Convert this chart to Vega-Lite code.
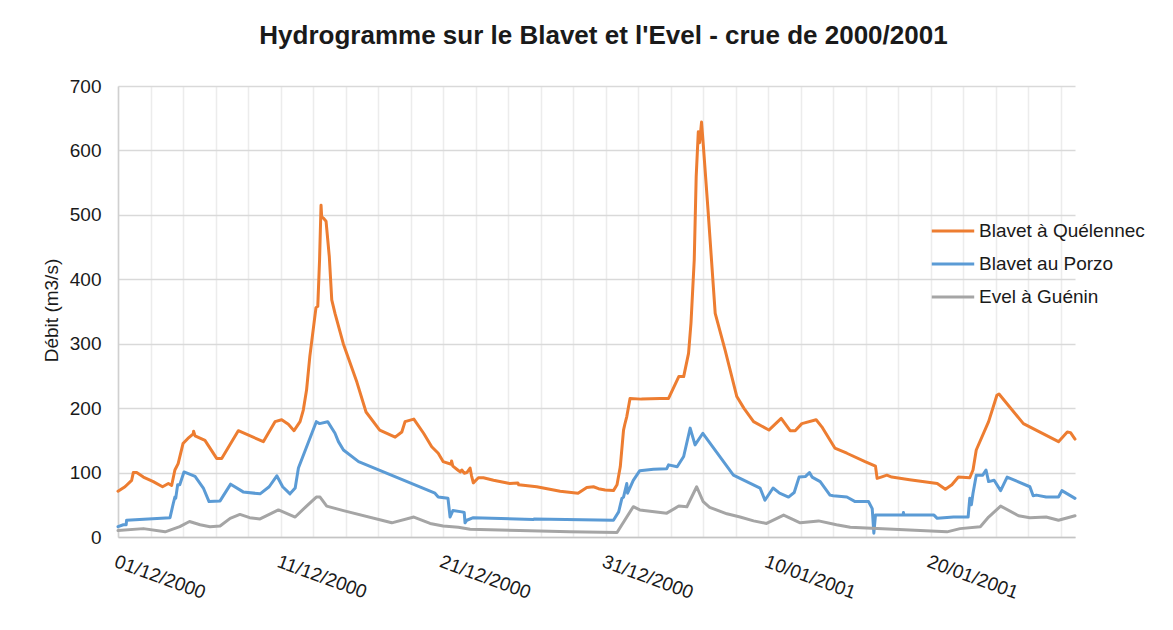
{
  "$schema": "https://vega.github.io/schema/vega-lite/v6.json",
  "autosize": "none",
  "width": 957,
  "height": 451,
  "padding": {"left": 118, "top": 86, "right": 98, "bottom": 93},
  "background": "white",
  "config": {
    "font": "Liberation Sans",
    "view": {"stroke": null}
  },
  "title": {
    "text": "Hydrogramme sur le Blavet et l'Evel - crue de 2000/2001",
    "fontSize": 26,
    "fontWeight": "bold",
    "font": "Liberation Sans",
    "color": "#1a1a1a",
    "anchor": "middle",
    "offset": 28,
    "dx": 7
  },
  "data": {
    "values": [
      {"date": "2000-12-01T00:00", "serie": "Blavet à Quélennec", "debit": 71},
      {"date": "2000-12-01T10:20", "serie": "Blavet à Quélennec", "debit": 78},
      {"date": "2000-12-01T20:10", "serie": "Blavet à Quélennec", "debit": 88},
      {"date": "2000-12-01T22:35", "serie": "Blavet à Quélennec", "debit": 100},
      {"date": "2000-12-02T03:36", "serie": "Blavet à Quélennec", "debit": 100},
      {"date": "2000-12-02T13:26", "serie": "Blavet à Quélennec", "debit": 93},
      {"date": "2000-12-03T04:05", "serie": "Blavet à Quélennec", "debit": 86},
      {"date": "2000-12-03T17:46", "serie": "Blavet à Quélennec", "debit": 78},
      {"date": "2000-12-04T02:24", "serie": "Blavet à Quélennec", "debit": 83},
      {"date": "2000-12-04T07:12", "serie": "Blavet à Quélennec", "debit": 80},
      {"date": "2000-12-04T12:00", "serie": "Blavet à Quélennec", "debit": 104},
      {"date": "2000-12-04T16:48", "serie": "Blavet à Quélennec", "debit": 114},
      {"date": "2000-12-05T00:00", "serie": "Blavet à Quélennec", "debit": 145},
      {"date": "2000-12-05T07:12", "serie": "Blavet à Quélennec", "debit": 153},
      {"date": "2000-12-05T15:07", "serie": "Blavet à Quélennec", "debit": 160},
      {"date": "2000-12-05T15:36", "serie": "Blavet à Quélennec", "debit": 164},
      {"date": "2000-12-05T17:46", "serie": "Blavet à Quélennec", "debit": 157},
      {"date": "2000-12-06T08:24", "serie": "Blavet à Quélennec", "debit": 150},
      {"date": "2000-12-07T01:41", "serie": "Blavet à Quélennec", "debit": 122},
      {"date": "2000-12-07T09:07", "serie": "Blavet à Quélennec", "debit": 122},
      {"date": "2000-12-08T09:36", "serie": "Blavet à Quélennec", "debit": 165},
      {"date": "2000-12-09T22:34", "serie": "Blavet à Quélennec", "debit": 148},
      {"date": "2000-12-10T15:50", "serie": "Blavet à Quélennec", "debit": 179},
      {"date": "2000-12-11T01:41", "serie": "Blavet à Quélennec", "debit": 182},
      {"date": "2000-12-11T11:31", "serie": "Blavet à Quélennec", "debit": 175},
      {"date": "2000-12-11T19:55", "serie": "Blavet à Quélennec", "debit": 165},
      {"date": "2000-12-12T04:48", "serie": "Blavet à Quélennec", "debit": 179},
      {"date": "2000-12-12T09:36", "serie": "Blavet à Quélennec", "debit": 197},
      {"date": "2000-12-12T14:24", "serie": "Blavet à Quélennec", "debit": 228},
      {"date": "2000-12-12T19:12", "serie": "Blavet à Quélennec", "debit": 280},
      {"date": "2000-12-13T04:19", "serie": "Blavet à Quélennec", "debit": 356},
      {"date": "2000-12-13T06:58", "serie": "Blavet à Quélennec", "debit": 358},
      {"date": "2000-12-13T09:36", "serie": "Blavet à Quélennec", "debit": 430},
      {"date": "2000-12-13T11:46", "serie": "Blavet à Quélennec", "debit": 515},
      {"date": "2000-12-13T12:43", "serie": "Blavet à Quélennec", "debit": 497},
      {"date": "2000-12-13T15:07", "serie": "Blavet à Quélennec", "debit": 495},
      {"date": "2000-12-13T19:12", "serie": "Blavet à Quélennec", "debit": 490},
      {"date": "2000-12-14T00:00", "serie": "Blavet à Quélennec", "debit": 435},
      {"date": "2000-12-14T03:36", "serie": "Blavet à Quélennec", "debit": 368},
      {"date": "2000-12-14T08:24", "serie": "Blavet à Quélennec", "debit": 347},
      {"date": "2000-12-14T20:38", "serie": "Blavet à Quélennec", "debit": 300},
      {"date": "2000-12-15T16:48", "serie": "Blavet à Quélennec", "debit": 240},
      {"date": "2000-12-16T06:14", "serie": "Blavet à Quélennec", "debit": 194},
      {"date": "2000-12-17T02:24", "serie": "Blavet à Quélennec", "debit": 166},
      {"date": "2000-12-18T01:12", "serie": "Blavet à Quélennec", "debit": 155},
      {"date": "2000-12-18T11:02", "serie": "Blavet à Quélennec", "debit": 163},
      {"date": "2000-12-18T15:50", "serie": "Blavet à Quélennec", "debit": 179},
      {"date": "2000-12-19T04:48", "serie": "Blavet à Quélennec", "debit": 183},
      {"date": "2000-12-19T19:12", "serie": "Blavet à Quélennec", "debit": 161},
      {"date": "2000-12-20T07:12", "serie": "Blavet à Quélennec", "debit": 140},
      {"date": "2000-12-20T16:48", "serie": "Blavet à Quélennec", "debit": 130},
      {"date": "2000-12-21T00:00", "serie": "Blavet à Quélennec", "debit": 117},
      {"date": "2000-12-21T12:00", "serie": "Blavet à Quélennec", "debit": 113},
      {"date": "2000-12-21T12:29", "serie": "Blavet à Quélennec", "debit": 118},
      {"date": "2000-12-21T14:24", "serie": "Blavet à Quélennec", "debit": 110},
      {"date": "2000-12-21T21:36", "serie": "Blavet à Quélennec", "debit": 104},
      {"date": "2000-12-22T01:12", "serie": "Blavet à Quélennec", "debit": 101},
      {"date": "2000-12-22T03:36", "serie": "Blavet à Quélennec", "debit": 104},
      {"date": "2000-12-22T07:12", "serie": "Blavet à Quélennec", "debit": 99},
      {"date": "2000-12-22T11:02", "serie": "Blavet à Quélennec", "debit": 100},
      {"date": "2000-12-22T15:50", "serie": "Blavet à Quélennec", "debit": 107},
      {"date": "2000-12-22T18:00", "serie": "Blavet à Quélennec", "debit": 95},
      {"date": "2000-12-22T20:38", "serie": "Blavet à Quélennec", "debit": 84},
      {"date": "2000-12-23T04:05", "serie": "Blavet à Quélennec", "debit": 92},
      {"date": "2000-12-23T11:31", "serie": "Blavet à Quélennec", "debit": 92},
      {"date": "2000-12-24T02:24", "serie": "Blavet à Quélennec", "debit": 88},
      {"date": "2000-12-25T02:24", "serie": "Blavet à Quélennec", "debit": 83},
      {"date": "2000-12-25T14:24", "serie": "Blavet à Quélennec", "debit": 84},
      {"date": "2000-12-25T15:36", "serie": "Blavet à Quélennec", "debit": 81},
      {"date": "2000-12-26T18:14", "serie": "Blavet à Quélennec", "debit": 78},
      {"date": "2000-12-28T04:48", "serie": "Blavet à Quélennec", "debit": 71},
      {"date": "2000-12-29T07:12", "serie": "Blavet à Quélennec", "debit": 68},
      {"date": "2000-12-29T20:10", "serie": "Blavet à Quélennec", "debit": 77},
      {"date": "2000-12-30T06:00", "serie": "Blavet à Quélennec", "debit": 78},
      {"date": "2000-12-30T13:26", "serie": "Blavet à Quélennec", "debit": 75},
      {"date": "2000-12-30T23:17", "serie": "Blavet à Quélennec", "debit": 73},
      {"date": "2000-12-31T11:31", "serie": "Blavet à Quélennec", "debit": 72},
      {"date": "2000-12-31T16:48", "serie": "Blavet à Quélennec", "debit": 81},
      {"date": "2000-12-31T21:36", "serie": "Blavet à Quélennec", "debit": 109},
      {"date": "2001-01-01T02:24", "serie": "Blavet à Quélennec", "debit": 166},
      {"date": "2001-01-01T04:19", "serie": "Blavet à Quélennec", "debit": 175},
      {"date": "2001-01-01T07:12", "serie": "Blavet à Quélennec", "debit": 187},
      {"date": "2001-01-01T12:00", "serie": "Blavet à Quélennec", "debit": 215},
      {"date": "2001-01-02T04:48", "serie": "Blavet à Quélennec", "debit": 214},
      {"date": "2001-01-03T08:24", "serie": "Blavet à Quélennec", "debit": 215},
      {"date": "2001-01-03T20:53", "serie": "Blavet à Quélennec", "debit": 215},
      {"date": "2001-01-04T12:00", "serie": "Blavet à Quélennec", "debit": 249},
      {"date": "2001-01-04T19:12", "serie": "Blavet à Quélennec", "debit": 249},
      {"date": "2001-01-05T02:24", "serie": "Blavet à Quélennec", "debit": 285},
      {"date": "2001-01-05T06:00", "serie": "Blavet à Quélennec", "debit": 332},
      {"date": "2001-01-05T10:48", "serie": "Blavet à Quélennec", "debit": 430},
      {"date": "2001-01-05T13:41", "serie": "Blavet à Quélennec", "debit": 559},
      {"date": "2001-01-05T16:48", "serie": "Blavet à Quélennec", "debit": 629},
      {"date": "2001-01-05T18:43", "serie": "Blavet à Quélennec", "debit": 612},
      {"date": "2001-01-05T21:36", "serie": "Blavet à Quélennec", "debit": 644},
      {"date": "2001-01-06T00:00", "serie": "Blavet à Quélennec", "debit": 611},
      {"date": "2001-01-06T07:12", "serie": "Blavet à Quélennec", "debit": 507},
      {"date": "2001-01-06T17:46", "serie": "Blavet à Quélennec", "debit": 347},
      {"date": "2001-01-07T08:24", "serie": "Blavet à Quélennec", "debit": 290},
      {"date": "2001-01-08T01:41", "serie": "Blavet à Quélennec", "debit": 218},
      {"date": "2001-01-08T12:00", "serie": "Blavet à Quélennec", "debit": 200},
      {"date": "2001-01-09T02:24", "serie": "Blavet à Quélennec", "debit": 179},
      {"date": "2001-01-10T01:00", "serie": "Blavet à Quélennec", "debit": 166},
      {"date": "2001-01-10T19:12", "serie": "Blavet à Quélennec", "debit": 184},
      {"date": "2001-01-11T08:24", "serie": "Blavet à Quélennec", "debit": 165},
      {"date": "2001-01-11T15:50", "serie": "Blavet à Quélennec", "debit": 165},
      {"date": "2001-01-12T01:41", "serie": "Blavet à Quélennec", "debit": 176},
      {"date": "2001-01-12T22:48", "serie": "Blavet à Quélennec", "debit": 182},
      {"date": "2001-01-13T07:12", "serie": "Blavet à Quélennec", "debit": 171},
      {"date": "2001-01-14T02:24", "serie": "Blavet à Quélennec", "debit": 138},
      {"date": "2001-01-14T20:10", "serie": "Blavet à Quélennec", "debit": 130},
      {"date": "2001-01-15T23:02", "serie": "Blavet à Quélennec", "debit": 117},
      {"date": "2001-01-16T14:24", "serie": "Blavet à Quélennec", "debit": 110},
      {"date": "2001-01-16T16:48", "serie": "Blavet à Quélennec", "debit": 91},
      {"date": "2001-01-16T22:48", "serie": "Blavet à Quélennec", "debit": 93},
      {"date": "2001-01-17T07:12", "serie": "Blavet à Quélennec", "debit": 96},
      {"date": "2001-01-17T14:24", "serie": "Blavet à Quélennec", "debit": 93},
      {"date": "2001-01-18T16:48", "serie": "Blavet à Quélennec", "debit": 89},
      {"date": "2001-01-20T09:36", "serie": "Blavet à Quélennec", "debit": 83},
      {"date": "2001-01-20T21:36", "serie": "Blavet à Quélennec", "debit": 74},
      {"date": "2001-01-21T07:12", "serie": "Blavet à Quélennec", "debit": 81},
      {"date": "2001-01-21T16:48", "serie": "Blavet à Quélennec", "debit": 93},
      {"date": "2001-01-22T09:36", "serie": "Blavet à Quélennec", "debit": 92},
      {"date": "2001-01-22T14:24", "serie": "Blavet à Quélennec", "debit": 104},
      {"date": "2001-01-22T19:12", "serie": "Blavet à Quélennec", "debit": 135},
      {"date": "2001-01-23T13:26", "serie": "Blavet à Quélennec", "debit": 179},
      {"date": "2001-01-24T01:41", "serie": "Blavet à Quélennec", "debit": 220},
      {"date": "2001-01-24T04:48", "serie": "Blavet à Quélennec", "debit": 222},
      {"date": "2001-01-25T16:48", "serie": "Blavet à Quélennec", "debit": 176},
      {"date": "2001-01-27T20:38", "serie": "Blavet à Quélennec", "debit": 148},
      {"date": "2001-01-28T09:36", "serie": "Blavet à Quélennec", "debit": 163},
      {"date": "2001-01-28T14:24", "serie": "Blavet à Quélennec", "debit": 162},
      {"date": "2001-01-28T21:00", "serie": "Blavet à Quélennec", "debit": 152},

      {"date": "2000-12-01T00:00", "serie": "Blavet au Porzo", "debit": 16},
      {"date": "2000-12-01T07:55", "serie": "Blavet au Porzo", "debit": 19},
      {"date": "2000-12-01T12:00", "serie": "Blavet au Porzo", "debit": 19},
      {"date": "2000-12-01T12:43", "serie": "Blavet au Porzo", "debit": 26},
      {"date": "2000-12-04T04:48", "serie": "Blavet au Porzo", "debit": 30},
      {"date": "2000-12-04T09:36", "serie": "Blavet au Porzo", "debit": 52},
      {"date": "2000-12-04T12:00", "serie": "Blavet au Porzo", "debit": 62},
      {"date": "2000-12-04T13:12", "serie": "Blavet au Porzo", "debit": 60},
      {"date": "2000-12-04T16:05", "serie": "Blavet au Porzo", "debit": 81},
      {"date": "2000-12-04T19:12", "serie": "Blavet au Porzo", "debit": 81},
      {"date": "2000-12-05T01:26", "serie": "Blavet au Porzo", "debit": 101},
      {"date": "2000-12-05T17:46", "serie": "Blavet au Porzo", "debit": 94},
      {"date": "2000-12-06T06:00", "serie": "Blavet au Porzo", "debit": 76},
      {"date": "2000-12-06T14:24", "serie": "Blavet au Porzo", "debit": 55},
      {"date": "2000-12-07T06:43", "serie": "Blavet au Porzo", "debit": 56},
      {"date": "2000-12-07T22:19", "serie": "Blavet au Porzo", "debit": 82},
      {"date": "2000-12-08T16:48", "serie": "Blavet au Porzo", "debit": 70},
      {"date": "2000-12-09T17:46", "serie": "Blavet au Porzo", "debit": 67},
      {"date": "2000-12-10T07:12", "serie": "Blavet au Porzo", "debit": 78},
      {"date": "2000-12-10T18:29", "serie": "Blavet au Porzo", "debit": 95},
      {"date": "2000-12-11T03:07", "serie": "Blavet au Porzo", "debit": 78},
      {"date": "2000-12-11T13:55", "serie": "Blavet au Porzo", "debit": 67},
      {"date": "2000-12-11T21:36", "serie": "Blavet au Porzo", "debit": 76},
      {"date": "2000-12-12T02:24", "serie": "Blavet au Porzo", "debit": 107},
      {"date": "2000-12-13T04:48", "serie": "Blavet au Porzo", "debit": 179},
      {"date": "2000-12-13T09:36", "serie": "Blavet au Porzo", "debit": 176},
      {"date": "2000-12-13T21:36", "serie": "Blavet au Porzo", "debit": 179},
      {"date": "2000-12-14T08:24", "serie": "Blavet au Porzo", "debit": 161},
      {"date": "2000-12-14T13:26", "serie": "Blavet au Porzo", "debit": 148},
      {"date": "2000-12-14T20:53", "serie": "Blavet au Porzo", "debit": 135},
      {"date": "2000-12-15T19:12", "serie": "Blavet au Porzo", "debit": 117},
      {"date": "2000-12-20T12:00", "serie": "Blavet au Porzo", "debit": 68},
      {"date": "2000-12-20T16:48", "serie": "Blavet au Porzo", "debit": 62},
      {"date": "2000-12-21T07:12", "serie": "Blavet au Porzo", "debit": 60},
      {"date": "2000-12-21T10:19", "serie": "Blavet au Porzo", "debit": 31},
      {"date": "2000-12-21T14:24", "serie": "Blavet au Porzo", "debit": 41},
      {"date": "2000-12-22T03:36", "serie": "Blavet au Porzo", "debit": 39},
      {"date": "2000-12-22T07:12", "serie": "Blavet au Porzo", "debit": 38},
      {"date": "2000-12-22T08:24", "serie": "Blavet au Porzo", "debit": 22},
      {"date": "2000-12-22T11:02", "serie": "Blavet au Porzo", "debit": 26},
      {"date": "2000-12-22T20:38", "serie": "Blavet au Porzo", "debit": 30},
      {"date": "2000-12-26T13:12", "serie": "Blavet au Porzo", "debit": 27},
      {"date": "2000-12-26T14:24", "serie": "Blavet au Porzo", "debit": 28},
      {"date": "2000-12-31T11:31", "serie": "Blavet au Porzo", "debit": 26},
      {"date": "2000-12-31T19:12", "serie": "Blavet au Porzo", "debit": 39},
      {"date": "2001-01-01T00:00", "serie": "Blavet au Porzo", "debit": 60},
      {"date": "2001-01-01T02:24", "serie": "Blavet au Porzo", "debit": 62},
      {"date": "2001-01-01T07:12", "serie": "Blavet au Porzo", "debit": 83},
      {"date": "2001-01-01T08:24", "serie": "Blavet au Porzo", "debit": 68},
      {"date": "2001-01-01T16:48", "serie": "Blavet au Porzo", "debit": 88},
      {"date": "2001-01-02T02:24", "serie": "Blavet au Porzo", "debit": 103},
      {"date": "2001-01-02T22:34", "serie": "Blavet au Porzo", "debit": 105},
      {"date": "2001-01-03T18:14", "serie": "Blavet au Porzo", "debit": 106},
      {"date": "2001-01-03T20:53", "serie": "Blavet au Porzo", "debit": 112},
      {"date": "2001-01-04T09:36", "serie": "Blavet au Porzo", "debit": 109},
      {"date": "2001-01-04T19:12", "serie": "Blavet au Porzo", "debit": 125},
      {"date": "2001-01-05T04:48", "serie": "Blavet au Porzo", "debit": 169},
      {"date": "2001-01-05T12:00", "serie": "Blavet au Porzo", "debit": 143},
      {"date": "2001-01-05T23:31", "serie": "Blavet au Porzo", "debit": 161},
      {"date": "2001-01-07T20:38", "serie": "Blavet au Porzo", "debit": 96},
      {"date": "2001-01-09T12:00", "serie": "Blavet au Porzo", "debit": 76},
      {"date": "2001-01-09T19:12", "serie": "Blavet au Porzo", "debit": 57},
      {"date": "2001-01-10T07:12", "serie": "Blavet au Porzo", "debit": 76},
      {"date": "2001-01-10T16:48", "serie": "Blavet au Porzo", "debit": 68},
      {"date": "2001-01-11T06:00", "serie": "Blavet au Porzo", "debit": 62},
      {"date": "2001-01-11T14:24", "serie": "Blavet au Porzo", "debit": 69},
      {"date": "2001-01-11T21:36", "serie": "Blavet au Porzo", "debit": 93},
      {"date": "2001-01-12T07:12", "serie": "Blavet au Porzo", "debit": 94},
      {"date": "2001-01-12T12:58", "serie": "Blavet au Porzo", "debit": 100},
      {"date": "2001-01-12T16:48", "serie": "Blavet au Porzo", "debit": 93},
      {"date": "2001-01-13T04:48", "serie": "Blavet au Porzo", "debit": 86},
      {"date": "2001-01-13T19:12", "serie": "Blavet au Porzo", "debit": 65},
      {"date": "2001-01-14T00:00", "serie": "Blavet au Porzo", "debit": 64},
      {"date": "2001-01-14T20:10", "serie": "Blavet au Porzo", "debit": 62},
      {"date": "2001-01-15T08:24", "serie": "Blavet au Porzo", "debit": 55},
      {"date": "2001-01-16T04:05", "serie": "Blavet au Porzo", "debit": 55},
      {"date": "2001-01-16T09:36", "serie": "Blavet au Porzo", "debit": 44},
      {"date": "2001-01-16T12:00", "serie": "Blavet au Porzo", "debit": 6},
      {"date": "2001-01-16T14:24", "serie": "Blavet au Porzo", "debit": 34},
      {"date": "2001-01-18T07:12", "serie": "Blavet au Porzo", "debit": 34},
      {"date": "2001-01-18T07:41", "serie": "Blavet au Porzo", "debit": 38},
      {"date": "2001-01-18T08:24", "serie": "Blavet au Porzo", "debit": 34},
      {"date": "2001-01-20T04:48", "serie": "Blavet au Porzo", "debit": 34},
      {"date": "2001-01-20T09:36", "serie": "Blavet au Porzo", "debit": 29},
      {"date": "2001-01-21T09:36", "serie": "Blavet au Porzo", "debit": 31},
      {"date": "2001-01-22T07:12", "serie": "Blavet au Porzo", "debit": 31},
      {"date": "2001-01-22T09:36", "serie": "Blavet au Porzo", "debit": 60},
      {"date": "2001-01-22T12:00", "serie": "Blavet au Porzo", "debit": 50},
      {"date": "2001-01-22T14:24", "serie": "Blavet au Porzo", "debit": 68},
      {"date": "2001-01-22T19:12", "serie": "Blavet au Porzo", "debit": 96},
      {"date": "2001-01-23T04:48", "serie": "Blavet au Porzo", "debit": 96},
      {"date": "2001-01-23T09:36", "serie": "Blavet au Porzo", "debit": 104},
      {"date": "2001-01-23T13:26", "serie": "Blavet au Porzo", "debit": 86},
      {"date": "2001-01-23T21:36", "serie": "Blavet au Porzo", "debit": 88},
      {"date": "2001-01-24T07:12", "serie": "Blavet au Porzo", "debit": 72},
      {"date": "2001-01-24T16:48", "serie": "Blavet au Porzo", "debit": 93},
      {"date": "2001-01-26T02:24", "serie": "Blavet au Porzo", "debit": 78},
      {"date": "2001-01-26T07:12", "serie": "Blavet au Porzo", "debit": 64},
      {"date": "2001-01-26T12:00", "serie": "Blavet au Porzo", "debit": 65},
      {"date": "2001-01-27T02:24", "serie": "Blavet au Porzo", "debit": 62},
      {"date": "2001-01-27T20:38", "serie": "Blavet au Porzo", "debit": 62},
      {"date": "2001-01-28T01:41", "serie": "Blavet au Porzo", "debit": 72},
      {"date": "2001-01-28T21:00", "serie": "Blavet au Porzo", "debit": 60},

      {"date": "2000-12-01T00:00", "serie": "Evel à Guénin", "debit": 10},
      {"date": "2000-12-02T13:26", "serie": "Evel à Guénin", "debit": 13},
      {"date": "2000-12-03T21:36", "serie": "Evel à Guénin", "debit": 8},
      {"date": "2000-12-04T19:12", "serie": "Evel à Guénin", "debit": 16},
      {"date": "2000-12-05T09:36", "serie": "Evel à Guénin", "debit": 24},
      {"date": "2000-12-06T01:12", "serie": "Evel à Guénin", "debit": 19},
      {"date": "2000-12-06T15:50", "serie": "Evel à Guénin", "debit": 16},
      {"date": "2000-12-07T06:43", "serie": "Evel à Guénin", "debit": 17},
      {"date": "2000-12-07T21:36", "serie": "Evel à Guénin", "debit": 29},
      {"date": "2000-12-08T12:00", "serie": "Evel à Guénin", "debit": 35},
      {"date": "2000-12-09T02:24", "serie": "Evel à Guénin", "debit": 30},
      {"date": "2000-12-09T17:46", "serie": "Evel à Guénin", "debit": 28},
      {"date": "2000-12-10T20:53", "serie": "Evel à Guénin", "debit": 42},
      {"date": "2000-12-11T21:36", "serie": "Evel à Guénin", "debit": 31},
      {"date": "2000-12-12T14:24", "serie": "Evel à Guénin", "debit": 48},
      {"date": "2000-12-13T04:48", "serie": "Evel à Guénin", "debit": 62},
      {"date": "2000-12-13T10:19", "serie": "Evel à Guénin", "debit": 62},
      {"date": "2000-12-13T20:10", "serie": "Evel à Guénin", "debit": 48},
      {"date": "2000-12-14T20:53", "serie": "Evel à Guénin", "debit": 41},
      {"date": "2000-12-17T20:10", "serie": "Evel à Guénin", "debit": 22},
      {"date": "2000-12-19T04:48", "serie": "Evel à Guénin", "debit": 31},
      {"date": "2000-12-20T04:48", "serie": "Evel à Guénin", "debit": 21},
      {"date": "2000-12-21T00:00", "serie": "Evel à Guénin", "debit": 17},
      {"date": "2000-12-21T22:34", "serie": "Evel à Guénin", "debit": 15},
      {"date": "2000-12-22T15:50", "serie": "Evel à Guénin", "debit": 12},
      {"date": "2000-12-25T16:48", "serie": "Evel à Guénin", "debit": 10},
      {"date": "2000-12-28T19:12", "serie": "Evel à Guénin", "debit": 8},
      {"date": "2000-12-31T16:48", "serie": "Evel à Guénin", "debit": 7},
      {"date": "2001-01-01T16:48", "serie": "Evel à Guénin", "debit": 47},
      {"date": "2001-01-02T02:24", "serie": "Evel à Guénin", "debit": 42},
      {"date": "2001-01-03T18:14", "serie": "Evel à Guénin", "debit": 37},
      {"date": "2001-01-04T12:00", "serie": "Evel à Guénin", "debit": 48},
      {"date": "2001-01-05T00:00", "serie": "Evel à Guénin", "debit": 47},
      {"date": "2001-01-05T14:24", "serie": "Evel à Guénin", "debit": 78},
      {"date": "2001-01-06T00:00", "serie": "Evel à Guénin", "debit": 55},
      {"date": "2001-01-06T09:36", "serie": "Evel à Guénin", "debit": 46},
      {"date": "2001-01-07T11:02", "serie": "Evel à Guénin", "debit": 36},
      {"date": "2001-01-08T06:29", "serie": "Evel à Guénin", "debit": 31},
      {"date": "2001-01-09T02:24", "serie": "Evel à Guénin", "debit": 25},
      {"date": "2001-01-09T21:36", "serie": "Evel à Guénin", "debit": 21},
      {"date": "2001-01-10T22:48", "serie": "Evel à Guénin", "debit": 34},
      {"date": "2001-01-11T23:17", "serie": "Evel à Guénin", "debit": 22},
      {"date": "2001-01-13T02:24", "serie": "Evel à Guénin", "debit": 25},
      {"date": "2001-01-14T04:48", "serie": "Evel à Guénin", "debit": 19},
      {"date": "2001-01-15T01:12", "serie": "Evel à Guénin", "debit": 15},
      {"date": "2001-01-17T16:48", "serie": "Evel à Guénin", "debit": 12},
      {"date": "2001-01-21T00:00", "serie": "Evel à Guénin", "debit": 8},
      {"date": "2001-01-21T19:12", "serie": "Evel à Guénin", "debit": 13},
      {"date": "2001-01-23T01:12", "serie": "Evel à Guénin", "debit": 16},
      {"date": "2001-01-23T13:26", "serie": "Evel à Guénin", "debit": 31},
      {"date": "2001-01-24T07:12", "serie": "Evel à Guénin", "debit": 48},
      {"date": "2001-01-25T09:36", "serie": "Evel à Guénin", "debit": 33},
      {"date": "2001-01-26T02:24", "serie": "Evel à Guénin", "debit": 30},
      {"date": "2001-01-27T02:24", "serie": "Evel à Guénin", "debit": 31},
      {"date": "2001-01-27T20:38", "serie": "Evel à Guénin", "debit": 26},
      {"date": "2001-01-28T21:00", "serie": "Evel à Guénin", "debit": 33}
    ]
  },
  "mark": {"type": "line", "strokeWidth": 3, "strokeJoin": "round", "strokeCap": "round"},
  "encoding": {
    "x": {
      "field": "date",
      "type": "temporal",
      "scale": {
        "domain": [
          {"year": 2000, "month": 12, "date": 1},
          {"year": 2001, "month": 1, "date": 28, "hours": 21}
        ],
        "nice": false
      },
      "axis": {
        "title": null,
        "values": [
          {"year": 2000, "month": 12, "date": 1},
          {"year": 2000, "month": 12, "date": 3},
          {"year": 2000, "month": 12, "date": 5},
          {"year": 2000, "month": 12, "date": 7},
          {"year": 2000, "month": 12, "date": 9},
          {"year": 2000, "month": 12, "date": 11},
          {"year": 2000, "month": 12, "date": 13},
          {"year": 2000, "month": 12, "date": 15},
          {"year": 2000, "month": 12, "date": 17},
          {"year": 2000, "month": 12, "date": 19},
          {"year": 2000, "month": 12, "date": 21},
          {"year": 2000, "month": 12, "date": 23},
          {"year": 2000, "month": 12, "date": 25},
          {"year": 2000, "month": 12, "date": 27},
          {"year": 2000, "month": 12, "date": 29},
          {"year": 2000, "month": 12, "date": 31},
          {"year": 2001, "month": 1, "date": 2},
          {"year": 2001, "month": 1, "date": 4},
          {"year": 2001, "month": 1, "date": 6},
          {"year": 2001, "month": 1, "date": 8},
          {"year": 2001, "month": 1, "date": 10},
          {"year": 2001, "month": 1, "date": 12},
          {"year": 2001, "month": 1, "date": 14},
          {"year": 2001, "month": 1, "date": 16},
          {"year": 2001, "month": 1, "date": 18},
          {"year": 2001, "month": 1, "date": 20},
          {"year": 2001, "month": 1, "date": 22},
          {"year": 2001, "month": 1, "date": 24},
          {"year": 2001, "month": 1, "date": 26},
          {"year": 2001, "month": 1, "date": 28}
        ],
        "labelExpr": "indexof(['01/12/2000','11/12/2000','21/12/2000','31/12/2000','10/01/2001','20/01/2001'], timeFormat(datum.value, '%d/%m/%Y')) >= 0 ? timeFormat(datum.value, '%d/%m/%Y') : ''",
        "labelAngle": 20,
        "labelAlign": "left",
        "labelBaseline": "top",
        "labelPadding": 15,
        "labelOverlap": false,
        "labelFontSize": 19,
        "labelFont": "Liberation Sans",
        "labelColor": "#1a1a1a",
        "ticks": false,
        "grid": true,
        "gridColor": "#ececec",
        "gridWidth": 1.5,
        "domain": true,
        "domainColor": "#c4c4c4",
        "domainWidth": 1.5
      }
    },
    "y": {
      "field": "debit",
      "type": "quantitative",
      "scale": {"domain": [0, 700], "nice": false},
      "axis": {
        "title": "Débit (m3/s)",
        "titleFontSize": 19,
        "titleFontWeight": "normal",
        "titleFont": "Liberation Sans",
        "titleColor": "#1a1a1a",
        "titleAngle": -90,
        "titleBaseline": "alphabetic",
        "titleAlign": "center",
        "titleX": -61,
        "titleY": 224,
        "values": [0, 100, 200, 300, 400, 500, 600, 700],
        "labelFontSize": 19,
        "labelFont": "Liberation Sans",
        "labelColor": "#1a1a1a",
        "labelPadding": 17,
        "ticks": false,
        "grid": true,
        "gridColor": "#d9d9d9",
        "gridWidth": 1.5,
        "domain": true,
        "domainColor": "#d0d0d0",
        "domainWidth": 1.5
      }
    },
    "color": {
      "field": "serie",
      "type": "nominal",
      "scale": {
        "domain": ["Blavet à Quélennec", "Blavet au Porzo", "Evel à Guénin"],
        "range": ["#ED7D31", "#5B9BD5", "#A5A5A5"]
      },
      "legend": {
        "title": null,
        "orient": "none",
        "legendX": 812,
        "legendY": 122,
        "direction": "vertical",
        "symbolType": "stroke",
        "symbolSize": 1800,
        "symbolStrokeWidth": 3,
        "labelFontSize": 19,
        "labelFont": "Liberation Sans",
        "labelColor": "#1a1a1a",
        "labelOffset": 3,
        "labelLimit": 0,
        "rowPadding": -8,
        "padding": 0
      }
    }
  }
}
